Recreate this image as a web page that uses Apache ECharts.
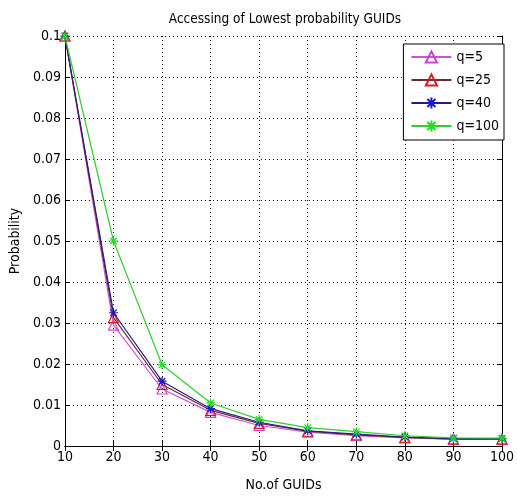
<!DOCTYPE html>
<html><head><meta charset="utf-8">
<script src="https://cdn.jsdelivr.net/npm/echarts@6/dist/echarts.min.js"></script>
<style>html,body{margin:0;padding:0;background:#fff}#c{width:517px;height:497px}</style>
</head><body><div id="c"></div>
<script>
const categories = [10, 20, 30, 40, 50, 60, 70, 80, 90, 100];
const q5   = [0.1, 0.0295, 0.0139, 0.0082, 0.0050, 0.0034, 0.0025, 0.0020, 0.0017, 0.0017];
const q25  = [0.1, 0.0313, 0.0150, 0.0087, 0.0055, 0.0036, 0.0027, 0.0021, 0.0017, 0.0017];
const q40  = [0.1, 0.0325, 0.0158, 0.0091, 0.0058, 0.0037, 0.0029, 0.0022, 0.0018, 0.0018];
const q100 = [0.1, 0.0500, 0.0198, 0.0105, 0.0065, 0.0045, 0.0035, 0.0025, 0.0020, 0.0019];
const yTicks = [0, 0.01, 0.02, 0.03, 0.04, 0.05, 0.06, 0.07, 0.08, 0.09, 0.1];

const FONT = '"Liberation Sans Narrow", "DejaVu Sans Condensed", "Liberation Sans", sans-serif';
const star = 'path://M0,-5L0,5M-5,0L5,0M-3.6,-3.6L3.6,3.6M-3.6,3.6L3.6,-3.6';

function pairs(arr){ return categories.map((x,i)=>[x, arr[i]]); }

function mk(name, data, color, lineColor, symbol, size){
  const isStar = symbol === star;
  return {
    name, type: 'line', data: pairs(data),
    symbol, symbolSize: size,
    showAllSymbol: true,
    lineStyle: {color: lineColor, width: 1.2},
    itemStyle: {color: isStar ? color : 'rgba(255,255,255,0)', borderColor: color, borderWidth: 1.2},
    emphasis: {disabled: true},
    animation: false
  };
}

const chart = echarts.init(document.getElementById('c'), null, {renderer: 'canvas'});
const axisText = {color: '#000', fontFamily: FONT, fontSize: 14};
chart.setOption({
  animation: false,
  title: {text: 'Accessing of Lowest probability GUIDs', left: 280, top: 7, textAlign: 'center',
    textStyle: {fontFamily: FONT, fontSize: 13.5, fontWeight: 'normal', color: '#000'}},
  grid: {left: 63, right: 9, top: 36, bottom: 43},
  legend: {
    orient: 'vertical', right: 13, top: 44,
    backgroundColor: '#fff', borderColor: '#000', borderWidth: 1,
    padding: [6, 5, 7, 7], itemGap: 9, itemWidth: 40, itemHeight: 14,
    textStyle: {fontFamily: FONT, fontSize: 14, color: '#000'},
    data: ['q=5', 'q=25', 'q=40', 'q=100']
  },
  xAxis: [{
    type: 'value', min: 10, max: 100, interval: 10,
    name: 'No.of GUIDs', nameLocation: 'middle', nameGap: 32,
    nameTextStyle: {fontFamily: FONT, fontSize: 14, color: '#000'},
    axisLine: {lineStyle: {color: '#000', width: 1}},
    axisTick: {inside: true, length: 5, lineStyle: {color: '#000'}},
    axisLabel: Object.assign({margin: 4}, axisText),
    splitLine: {show: true, lineStyle: {color: '#000', type: [1, 3], width: 1}}
  }, {
    type: 'value', position: 'top', min: 10, max: 100, interval: 10,
    axisLine: {show: true, lineStyle: {color: '#000'}},
    axisTick: {inside: true, length: 5, lineStyle: {color: '#000'}},
    axisLabel: {show: false}, splitLine: {show: false}
  }],
  yAxis: [{
    type: 'value', min: 0, max: 0.1, interval: 0.01,
    name: 'Probability', nameLocation: 'middle', nameGap: 32,
    nameTextStyle: {fontFamily: FONT, fontSize: 14, color: '#000'},
    axisLine: {show: true, lineStyle: {color: '#000', width: 1}},
    axisTick: {inside: true, length: 5, lineStyle: {color: '#000'}},
    axisLabel: Object.assign({margin: 4, formatter: v => {
      const t = yTicks.find(k => Math.abs(k - v) < 1e-9);
      return t === undefined ? '' : String(+t.toFixed(2));
    }}, axisText),
    splitLine: {show: true, lineStyle: {color: '#000', type: [1, 3], width: 1}}
  }, {
    type: 'value', position: 'right', min: 0, max: 0.1, interval: 0.01,
    axisLine: {show: true, lineStyle: {color: '#000'}},
    axisTick: {inside: true, length: 5, lineStyle: {color: '#000'}},
    axisLabel: {show: false}, splitLine: {show: false}
  }],
  series: [
    mk('q=5', q5, '#cc44cc', '#cc55cc', 'triangle', 10),
    mk('q=25', q25, '#d02020', '#6a2a3a', 'triangle', 10),
    mk('q=40', q40, '#1a1acc', '#22207a', star, 9),
    mk('q=100', q100, '#22dd22', '#33cc33', star, 9)
  ]
});
</script></body></html>
